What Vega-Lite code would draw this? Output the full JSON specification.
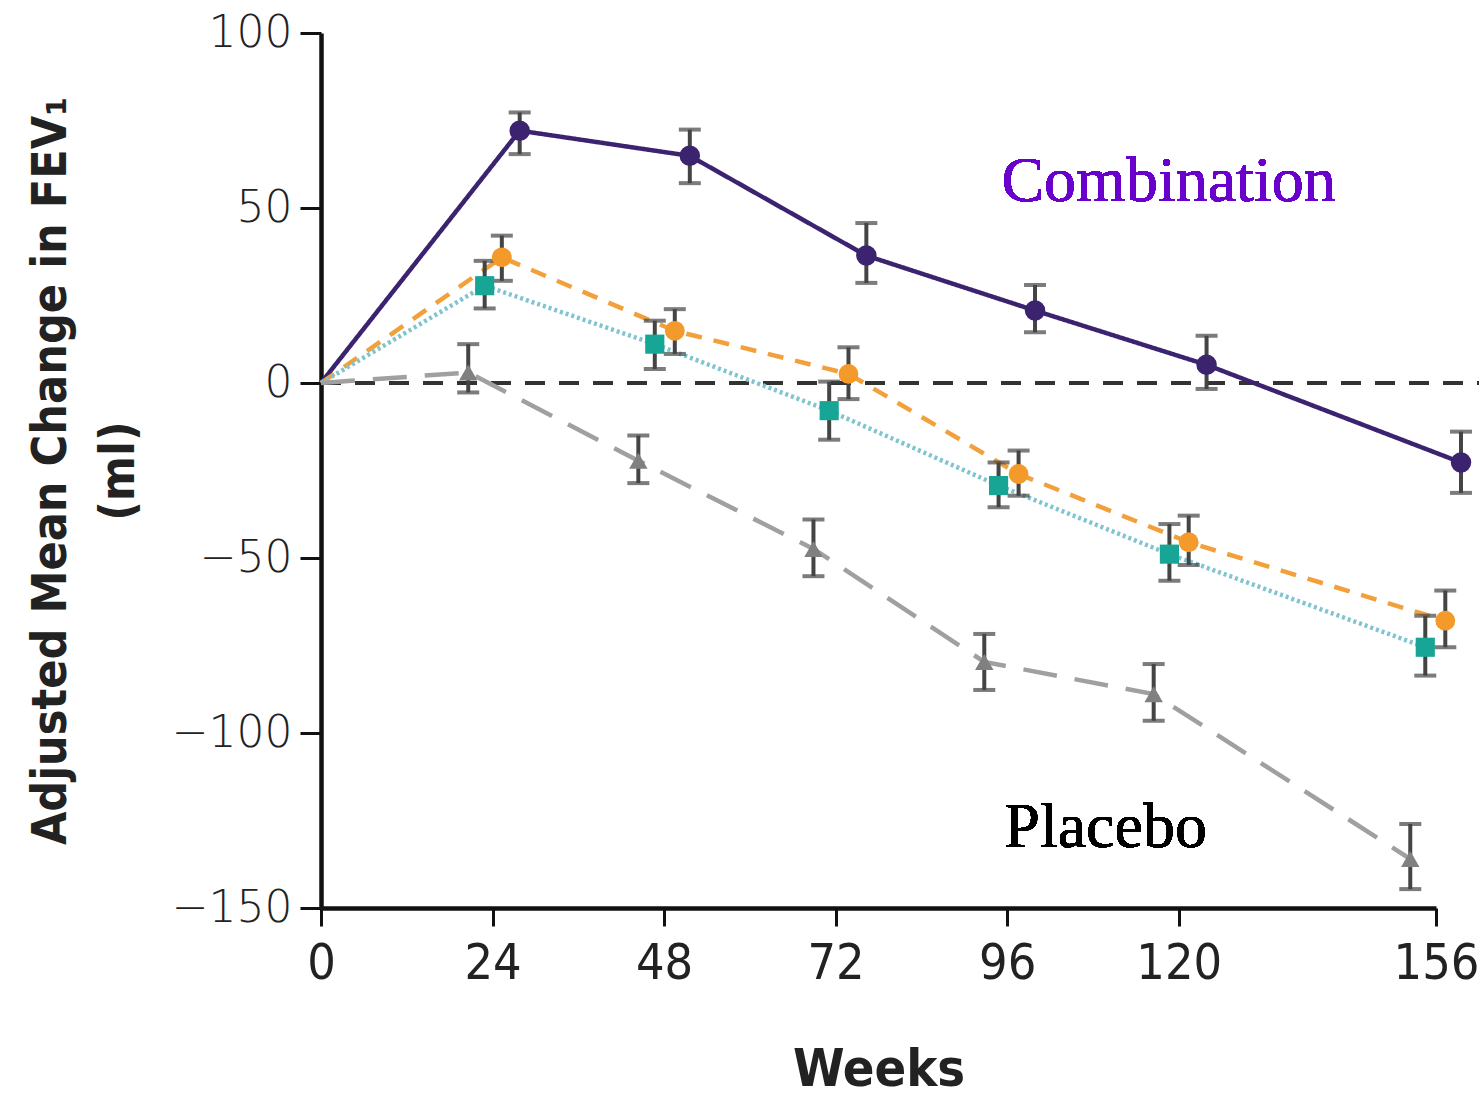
{
  "$schema": "https://vega.github.io/schema/vega-lite/v6.json",
  "width": 1115,
  "height": 875,
  "autosize": {"type": "none"},
  "padding": {"left": 321, "top": 33, "right": 48, "bottom": 188},
  "background": "white",
  "config": {"view": {"stroke": null}, "axis": {"grid": false}},
  "data": {
    "values": [
      {"series": "Combination", "wk": 0, "v": 0, "lo": null, "hi": null},
      {"series": "Combination", "wk": 27.8, "v": 72.1, "lo": 65.4, "hi": 77.3},
      {"series": "Combination", "wk": 51.6, "v": 64.9, "lo": 57.1, "hi": 72.4},
      {"series": "Combination", "wk": 76.3, "v": 36.4, "lo": 28.6, "hi": 45.7},
      {"series": "Combination", "wk": 99.9, "v": 20.7, "lo": 14.5, "hi": 28.0},
      {"series": "Combination", "wk": 123.9, "v": 5.2, "lo": -1.7, "hi": 13.5},
      {"series": "Combination", "wk": 159.5, "v": -22.7, "lo": -31.4, "hi": -13.9},
      {"series": "Salmeterol", "wk": 0, "v": 0, "lo": null, "hi": null},
      {"series": "Salmeterol", "wk": 25.3, "v": 35.9, "lo": 29.2, "hi": 42.1},
      {"series": "Salmeterol", "wk": 49.5, "v": 14.9, "lo": 8.3, "hi": 21.1},
      {"series": "Salmeterol", "wk": 73.8, "v": 2.6, "lo": -4.6, "hi": 10.2},
      {"series": "Salmeterol", "wk": 97.6, "v": -26.0, "lo": -32.2, "hi": -19.3},
      {"series": "Salmeterol", "wk": 121.4, "v": -45.5, "lo": -52.0, "hi": -37.9},
      {"series": "Salmeterol", "wk": 157.3, "v": -67.9, "lo": -75.5, "hi": -59.3},
      {"series": "Fluticasone", "wk": 0, "v": 0, "lo": null, "hi": null},
      {"series": "Fluticasone", "wk": 22.9, "v": 27.8, "lo": 21.3, "hi": 34.9},
      {"series": "Fluticasone", "wk": 46.7, "v": 11.1, "lo": 4.0, "hi": 17.8},
      {"series": "Fluticasone", "wk": 71.1, "v": -7.9, "lo": -16.2, "hi": 0.4},
      {"series": "Fluticasone", "wk": 94.8, "v": -29.3, "lo": -35.5, "hi": -22.7},
      {"series": "Fluticasone", "wk": 118.7, "v": -48.9, "lo": -56.5, "hi": -40.3},
      {"series": "Fluticasone", "wk": 154.5, "v": -75.5, "lo": -83.6, "hi": -66.5},
      {"series": "Placebo", "wk": 0, "v": 0, "lo": null, "hi": null},
      {"series": "Placebo", "wk": 20.6, "v": 3.0, "lo": -2.7, "hi": 11.1},
      {"series": "Placebo", "wk": 44.4, "v": -22.2, "lo": -28.6, "hi": -15.0},
      {"series": "Placebo", "wk": 68.9, "v": -47.4, "lo": -55.2, "hi": -39.0},
      {"series": "Placebo", "wk": 92.8, "v": -79.7, "lo": -87.7, "hi": -71.7},
      {"series": "Placebo", "wk": 116.5, "v": -88.9, "lo": -96.5, "hi": -80.3},
      {"series": "Placebo", "wk": 152.4, "v": -136.0, "lo": -144.6, "hi": -126.0}
    ]
  },
  "encoding": {
    "x": {
      "field": "wk", "type": "quantitative",
      "scale": {"domain": [0, 156], "nice": false, "zero": false},
      "axis": {
        "title": "Weeks", "values": [0, 24, 48, 72, 96, 120, 156],
        "domainColor": "#111", "domainWidth": 4.5, "tickColor": "#111", "tickWidth": 3, "tickSize": 18,
        "labelFont": "DejaVu Sans Condensed", "labelFontSize": 50, "labelColor": "#222", "labelPadding": 12, "labelFlush": false,
        "titleFont": "DejaVu Sans Condensed", "titleFontWeight": "bold", "titleFontSize": 52, "titleColor": "#222", "titlePadding": 56
      }
    },
    "y": {
      "field": "v", "type": "quantitative",
      "scale": {"domain": [-150, 100], "nice": false, "zero": false},
      "axis": {
        "title": ["Adjusted Mean Change in FEV₁", "(ml)"], "values": [-150, -100, -50, 0, 50, 100],
        "domainColor": "#111", "domainWidth": 4.5, "tickColor": "#111", "tickWidth": 3, "tickSize": 21,
        "labelFont": "DejaVu Sans", "labelFontWeight": 300, "labelFontSize": 44, "labelColor": "#222", "labelPadding": 8, "labelFlush": false,
        "titleFont": "DejaVu Sans Condensed", "titleFontWeight": "bold", "titleFontSize": 48, "titleColor": "#222", "titlePadding": 28, "titleLineHeight": 68
      }
    }
  },
  "layer": [
    {
      "mark": {"type": "rule", "color": "#333", "strokeWidth": 3.5, "strokeDash": [20, 14]},
      "encoding": {"x": {"datum": 0, "type": "quantitative"}, "x2": {"datum": 162}, "y": {"datum": 0, "type": "quantitative"}}
    },
    {
      "mark": {"type": "line", "strokeWidth": 4.5},
      "encoding": {
        "color": {"field": "series", "type": "nominal", "legend": null,
          "scale": {"domain": ["Combination", "Salmeterol", "Fluticasone", "Placebo"], "range": ["#3b2370", "#f2a03c", "#7fc4cf", "#a0a0a0"]}},
        "strokeDash": {"field": "series", "type": "nominal", "legend": null,
          "scale": {"domain": ["Combination", "Salmeterol", "Fluticasone", "Placebo"], "range": [[1, 0], [16, 12], [3, 3], [34, 18]]}},
        "order": {"field": "wk"}
      }
    },
    {
      "transform": [{"filter": "datum.lo != null"}],
      "mark": {"type": "errorbar", "ticks": {"size": 22, "thickness": 4, "color": "#444"}, "rule": {"strokeWidth": 4, "color": "#444"}},
      "encoding": {"y": {"field": "lo", "type": "quantitative"}, "y2": {"field": "hi"}}
    },
    {
      "transform": [{"filter": "datum.lo != null"}],
      "mark": {"type": "point", "filled": true, "opacity": 1},
      "encoding": {
        "fill": {"field": "series", "type": "nominal", "legend": null,
          "scale": {"domain": ["Combination", "Salmeterol", "Fluticasone", "Placebo"], "range": ["#3b2370", "#f39a2b", "#17a595", "#808080"]}},
        "shape": {"field": "series", "type": "nominal", "legend": null,
          "scale": {"domain": ["Combination", "Salmeterol", "Fluticasone", "Placebo"], "range": ["circle", "circle", "square", "triangle-up"]}},
        "size": {"field": "series", "type": "nominal", "legend": null,
          "scale": {"domain": ["Combination", "Salmeterol", "Fluticasone", "Placebo"], "range": [420, 340, 330, 200]}}
      }
    },
    {
      "mark": {"type": "text", "text": "Combination", "font": "Liberation Serif", "fontSize": 64, "color": "#6a00cc", "align": "left", "baseline": "middle"},
      "encoding": {"x": {"datum": 95.2, "type": "quantitative"}, "y": {"datum": 57.3, "type": "quantitative"}}
    },
    {
      "mark": {"type": "text", "text": "Placebo", "font": "Liberation Serif", "fontSize": 64, "color": "#000", "align": "left", "baseline": "middle"},
      "encoding": {"x": {"datum": 95.6, "type": "quantitative"}, "y": {"datum": -127, "type": "quantitative"}}
    }
  ],
  "resolve": {"scale": {"color": "independent"}}
}
